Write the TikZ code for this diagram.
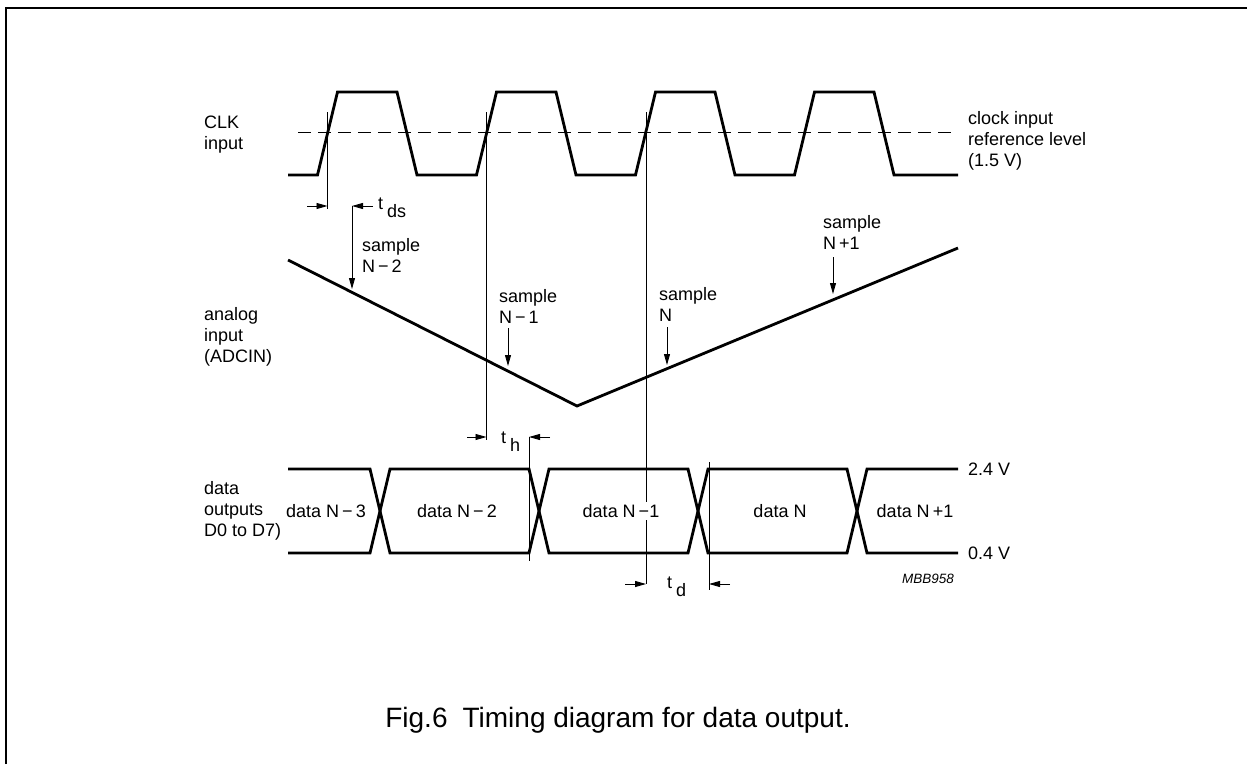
\documentclass[tikz,border=0pt]{standalone}
\usepackage{fontspec}
\setmainfont{Liberation Sans}
\usetikzlibrary{arrows.meta}
\tikzset{
  wave/.style={line width=2.8pt},
  guide/.style={line width=0.9pt},
  pointer/.style={guide, -{Triangle[length=11pt,width=6pt]}},
  lbl/.style={font=\fontsize{18}{21}\selectfont, align=left, inner sep=0pt, anchor=west},
  busname/.style={font=\fontsize{18}{21}\selectfont, inner sep=2pt, fill=white},
}
\newcommand{\tlabel}[1]{t\hspace{4pt}\raisebox{-8pt}{#1}}

\begin{document}
\begin{tikzpicture}[x=1pt,y=-1pt]
        \useasboundingbox (0,0) rectangle (1247,764);
        % frame
        \draw[line width=2pt] (6,764) -- (6,8) -- (1247,8);

        % clock input
        \node[lbl] (clk) at (204,135) {CLK\\input};
        \draw[wave] (288,175) -- (317.5,175) -- (337.5,92) -- (397,92) -- (417,175)
            -- (476.5,175) -- (496.5,92) -- (556,92) -- (576,175)
            -- (635.5,175) -- (655.5,92) -- (715,92) -- (735,175)
            -- (794.5,175) -- (814.5,92) -- (874,92) -- (894,175) -- (958,175);
        \draw[guide, dash pattern=on 13pt off 7pt] (298,132) -- (955,132);
        \node[lbl] (ref) at (968,141) {clock input\\reference level\\(1.5 V)};

        % analog input
        \node[lbl] (ana) at (204,337) {analog\\input\\(ADCIN)};
        \coordinate (aL) at (288,260);
        \coordinate (aV) at (577,406);
        \coordinate (aR) at (958,248);
        \draw[wave] (aL) -- (aV) -- (aR);

        % data outputs
        \node[lbl] (dat) at (204,511) {data\\outputs\\D0 to D7)};
        \draw[wave] (288,469) -- (370,469) -- (390,553) -- (529,553) -- (549,469) -- (688,469)
            -- (708,553) -- (847,553) -- (867,469) -- (958,469);
        \draw[wave] (288,553) -- (370,553) -- (390,469) -- (529,469) -- (549,553) -- (688,553)
            -- (708,469) -- (847,469) -- (867,553) -- (958,553);
        \node[lbl] (hi) at (968,469) {2.4 V};
        \node[lbl] (lo) at (968,553) {0.4 V};

        % t_ds
        \coordinate (dsA) at (327.5,206);
        \coordinate (dsB) at (352,206);
        \draw[guide] (327.5,112) -- (327.5,209);
        \draw[pointer] (307,206) -- (dsA);
        \draw[pointer] (373,206) -- (dsB);
        \node[lbl, anchor=base west] (tds) at (378,209) {\tlabel{ds}};
        \draw[pointer] (dsB) -- (352,289);
        \node[lbl] (sN2) at (362,255) {sample\\N\,−\,2};

        % sample N-1, t_h
        \coordinate (hA) at (486.5,437);
        \coordinate (hB) at (529,437);
        \draw[guide] (486.5,112) -- (486.5,440);
        \draw[guide] (hB) -- (529,561);
        \draw[pointer] (467,437) -- (hA);
        \draw[pointer] (550,437) -- (hB);
        \node[lbl, anchor=base west] (th) at (501,443) {\tlabel{h}};
        \node[lbl] (sN1) at (499,306) {sample\\N\,−\,1};
        \draw[pointer] (508,328) -- (508,366);

        % sample N, t_d
        \coordinate (dA) at (646,584);
        \coordinate (dB) at (709,584);
        \draw[guide] (646,112) -- (dA);
        \draw[guide] (709,462) -- (709,590);
        \draw[pointer] (625,584) -- (dA);
        \draw[pointer] (730,584) -- (dB);
        \node[lbl, anchor=base west] (td) at (667,588) {\tlabel{d}};
        \node[lbl] (sN) at (659,304) {sample\\N};
        \draw[pointer] (667,327) -- (667,365);

        % sample N+1
        \node[lbl] (sN3) at (823,232) {sample\\N\,+1};
        \draw[pointer] (833,257) -- (833,294);

        % data words
        \node[busname] (w1) at (326,511) {data N\,−\,3};
        \node[busname] (w2) at (457,511) {data N\,−\,2};
        \node[busname] (w3) at (621,511) {data N\,−1};
        \node[busname] (w4) at (780,511) {data N};
        \node[busname] (w5) at (915,511) {data N\,+1};

        \node[font=\fontsize{13.5}{15}\selectfont\itshape, anchor=east, inner sep=0pt] (code) at (954,579) {MBB958};

        % caption
        \node[font=\fontsize{28}{32}\selectfont, inner sep=0pt] (cap) at (618,720) {Fig.6\hspace{15pt}Timing diagram for data output.};
\end{tikzpicture}
\end{document}
